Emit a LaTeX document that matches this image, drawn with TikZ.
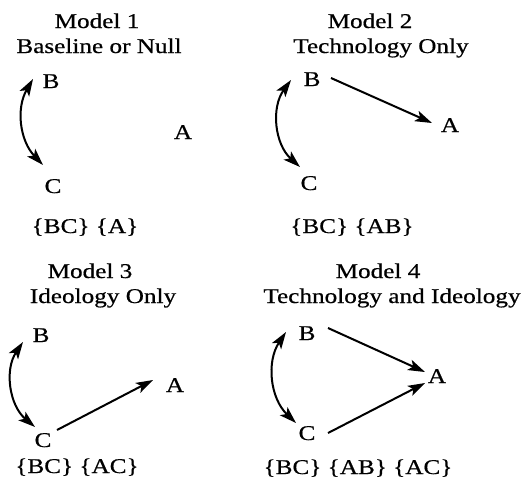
\documentclass[tikz,border=0pt]{standalone}
\usepackage{fontspec}
\setmainfont{Liberation Serif}[FakeStretch=1.2,FakeBold=0.6]
\usepackage{tikz}
\usetikzlibrary{arrows.meta}

\tikzset{
  ttl/.style={font=\fontsize{21}{24}\selectfont,inner sep=0pt,anchor=base},
  lbl/.style={font=\fontsize{21}{24}\selectfont,inner sep=1pt,anchor=base},
  cause/.style={line width=2pt,-{Stealth[length=17pt,width=11pt,inset=4pt]}},
  assoc/.style={line width=2pt,{Stealth[length=17pt,width=11pt,inset=4pt]}-{Stealth[length=17pt,width=11pt,inset=4pt]}}
}

\begin{document}
\begin{tikzpicture}[x=1pt,y=-1pt]
  \useasboundingbox (0,0) rectangle (526,493);

  % Model 1 - baseline
  \node[ttl] (t1a) at (97,28) {Model 1};
  \node[ttl] (t1b) at (99,53) {Baseline or Null};
  \node[lbl] (B1) at (51,88) {B};
  \node[lbl] (A1) at (183,139) {A};
  \node[lbl] (C1) at (53,193) {C};
  \draw[assoc] ([shift={(-18pt,9pt)}]B1.base) to[bend right=37] ([shift={(-10pt,28pt)}]C1.base);
  \node[lbl] (s1) at (85,233) {\{BC\} \{A\}};

  % Model 2 - technology
  \node[ttl] (t2a) at (370,28) {Model 2};
  \node[ttl] (t2b) at (381,53) {Technology Only};
  \node[lbl] (B2) at (312,86) {B};
  \node[lbl] (A2) at (450,132) {A};
  \node[lbl] (C2) at (309,190) {C};
  \draw[assoc] ([shift={(-21pt,6pt)}]B2.base) to[bend right=42] ([shift={(-9pt,23pt)}]C2.base);
  \draw[cause] ([shift={(19pt,8pt)}]B2.base) -- ([shift={(-18pt,9pt)}]A2.base);
  \node[lbl] (s2) at (352,233) {\{BC\} \{AB\}};

  % Model 3 - ideology
  \node[ttl] (t3a) at (90,278) {Model 3};
  \node[ttl] (t3b) at (103,303) {Ideology Only};
  \node[lbl] (B3) at (41,342) {B};
  \node[lbl] (A3) at (175,392) {A};
  \node[lbl] (C3) at (43,447) {C};
  \draw[assoc] ([shift={(-18pt,0pt)}]B3.base) to[bend right=42] ([shift={(-8pt,20pt)}]C3.base);
  \draw[cause] ([shift={(14pt,17pt)}]C3.base) -- ([shift={(-22pt,12pt)}]A3.base);
  \node[lbl] (s3) at (77,473) {\{BC\} \{AC\}};

  % Model 4 - both
  \node[ttl] (t4a) at (378,278) {Model 4};
  \node[ttl] (t4b) at (392,303) {Technology and Ideology};
  \node[lbl] (B4) at (307,340) {B};
  \node[lbl] (A4) at (437,383) {A};
  \node[lbl] (C4) at (307,440) {C};
  \draw[assoc] ([shift={(-21pt,8pt)}]B4.base) to[bend right=40] ([shift={(-11pt,17pt)}]C4.base);
  \draw[cause] ([shift={(21pt,12pt)}]B4.base) -- ([shift={(-12pt,11pt)}]A4.base);
  \draw[cause] ([shift={(21pt,7pt)}]C4.base) -- ([shift={(-12pt,0pt)}]A4.base);
  \node[lbl] (s4) at (358,474) {\{BC\} \{AB\} \{AC\}};
\end{tikzpicture}
\end{document}
